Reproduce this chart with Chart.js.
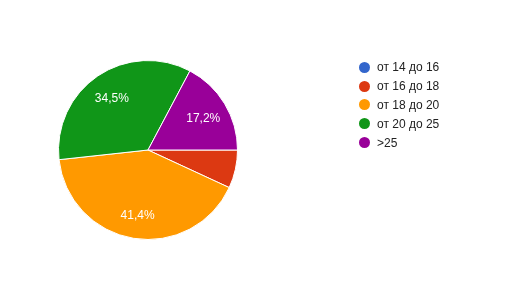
<!DOCTYPE html>
<html>
<head>
<meta charset="utf-8">
<script src="https://cdn.jsdelivr.net/npm/chart.js@4/dist/chart.umd.min.js"></script>
<style>
    html, body { margin: 0; padding: 0; background: #fff; }
    #wrap { position: relative; width: 524px; height: 308px; }
    #legend { position: absolute; left: 359px; top: 58px; font: 12px "Liberation Sans", Arial, sans-serif; color: #222; }
    #legend div { height: 18.8px; display: flex; align-items: center; }
    #legend span.dot { width: 11px; height: 11px; border-radius: 50%; display: inline-block; margin-right: 7px; }
</style>
</head>
<body>
<div id="wrap">
    <canvas id="pieChart" width="524" height="308"></canvas>
    <div id="legend"></div>
</div>
<script>
const categories = ['от 14 до 16', 'от 16 до 18', 'от 18 до 20', 'от 20 до 25', '>25'];
const counts = [0, 2, 12, 10, 5];
const colors = ['#3366cc', '#dc3912', '#ff9900', '#109618', '#990099'];

// percent labels inside the slices
const sliceLabels = {
    id: 'sliceLabels',
    afterDatasetsDraw(chart) {
        const ctx = chart.ctx;
        const meta = chart.getDatasetMeta(0);
        const total = counts.reduce((a, b) => a + b, 0);
        ctx.save();
        ctx.font = '12px "Liberation Sans", Arial, sans-serif';
        ctx.fillStyle = '#fff';
        ctx.textAlign = 'center';
        ctx.textBaseline = 'middle';
        meta.data.forEach((arc, i) => {
            const pct = counts[i] / total * 100;
            if (pct < 10) return;
            const mid = (arc.startAngle + arc.endAngle) / 2;
            const r = arc.outerRadius * 0.72;
            const text = pct.toFixed(1).replace('.', ',') + '%';
            ctx.fillText(text, arc.x + Math.cos(mid) * r, arc.y + Math.sin(mid) * r + 2);
        });
        ctx.restore();
    }
};

new Chart(document.getElementById('pieChart').getContext('2d'), {
    type: 'pie',
    data: {
        labels: categories,
        datasets: [{
            data: counts,
            backgroundColor: colors,
            borderColor: '#fff',
            borderWidth: 1,
        }],
    },
    options: {
        responsive: false,
        animation: false,
        rotation: 90,
        layout: { padding: { left: 58, right: 286, top: 60, bottom: 68 } },
        plugins: {
            legend: { display: false },
            tooltip: { enabled: false },
        },
    },
    plugins: [sliceLabels],
});

const legend = document.getElementById('legend');
categories.forEach((name, i) => {
    const row = document.createElement('div');
    row.innerHTML = `<span class="dot" style="background:${colors[i]}"></span>${name.replace('>', '&gt;')}`;
    legend.appendChild(row);
});
</script>
</body>
</html>
